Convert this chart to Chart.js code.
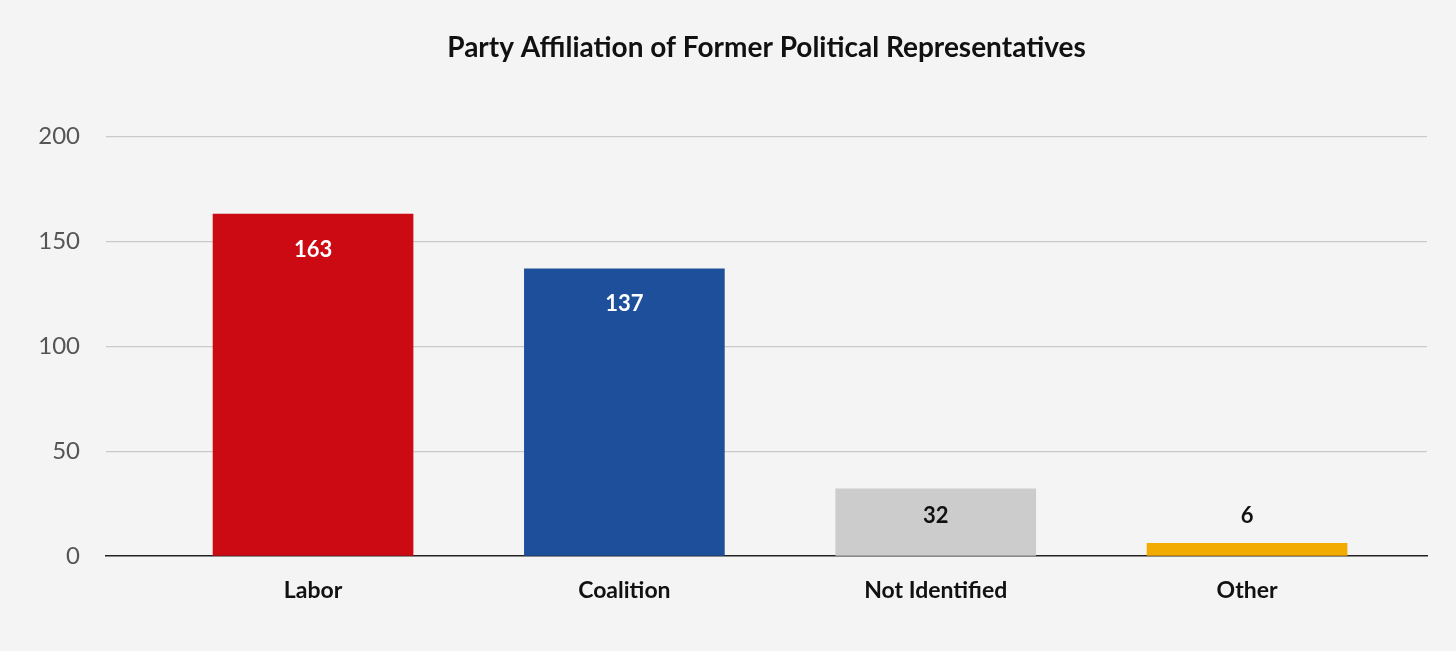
<!DOCTYPE html>
<html lang="en">
  <head>
    <meta charset="UTF-8" />
    <title>Party Affiliation of Former Political Representatives</title>
    <script src="https://cdn.jsdelivr.net/npm/chart.js"></script>
    <style>
      html, body { margin: 0; padding: 0; background: #f4f4f4; }
      #wrap { width: 1456px; height: 651px; }
    </style>
  </head>
  <body>
    <div id="wrap"><canvas id="partyChart"></canvas></div>
    <script>
      // chart data
      const categories = ["Labor", "Coalition", "Not Identified", "Other"];
      const counts = [163, 137, 32, 6];
      const barColors = ["#cb0a13", "#1d4f9a", "#cccccc", "#f2ab00"];
      const labelColors = ["#ffffff", "#ffffff", "#111111", "#111111"];
      const yTicks = [0, 50, 100, 150, 200];

      // value labels drawn inside the top of the bar, or just above short ones
      const valueLabels = {
        id: "valueLabels",
        afterDatasetsDraw(chart) {
          const ctx = chart.ctx;
          const yScale = chart.scales.y;
          const meta = chart.getDatasetMeta(0);
          ctx.save();
          ctx.font = "bold 22px Lato";
          ctx.textAlign = "center";
          ctx.textBaseline = "middle";
          meta.data.forEach((bar, i) => {
            const v = Math.max(counts[i] - 17, 19);
            ctx.fillStyle = labelColors[i];
            ctx.fillText(String(counts[i]), bar.x, yScale.getPixelForValue(v));
          });
          ctx.restore();
        },
      };

      new Chart(document.getElementById("partyChart"), {
        type: "bar",
        data: {
          datasets: [
            {
              data: counts.map((c, i) => ({ x: i, y: c })),
              backgroundColor: barColors,
              barThickness: 200,
              borderWidth: 0,
            },
          ],
        },
        options: {
          responsive: true,
          maintainAspectRatio: false,
          animation: false,
          layout: { padding: { left: 0, right: 29, top: 0, bottom: 49 } },
          plugins: {
            legend: { display: false },
            tooltip: { enabled: false },
            title: {
              display: true,
              fullSize: false,
              text: "Party Affiliation of Former Political Representatives",
              color: "#111111",
              font: { family: "Lato", size: 28, weight: "bold" },
              padding: { top: 31, bottom: 72 },
            },
          },
          scales: {
            x: {
              type: "linear",
              offset: false,
              min: -0.665,
              max: 3.578,
              grid: { display: false, drawTicks: false },
              border: { display: true, color: "#222222", width: 1.5 },
              afterBuildTicks: (axis) => {
                axis.ticks = categories.map((c, i) => ({ value: i }));
              },
              afterFit: (axis) => {
                axis.height = 46;
              },
              ticks: {
                padding: 21,
                maxRotation: 0,
                color: "#111111",
                font: { family: "Lato", size: 23, weight: "bold" },
                callback: (value) => categories[value],
              },
            },
            y: {
              min: 0,
              max: 200,
              afterBuildTicks: (axis) => {
                axis.ticks = yTicks.map((v) => ({ value: v }));
              },
              afterFit: (axis) => {
                axis.width = 106;
              },
              border: { display: false },
              grid: {
                color: (c) => (c.tick.value === 0 ? "rgba(0,0,0,0)" : "#c9c9c9"),
                lineWidth: 1.2,
                drawTicks: false,
              },
              ticks: {
                padding: 26,
                color: "#555555",
                font: { family: "Lato", size: 24 },
              },
            },
          },
        },
        plugins: [valueLabels],
      });
    </script>
  </body>
</html>
